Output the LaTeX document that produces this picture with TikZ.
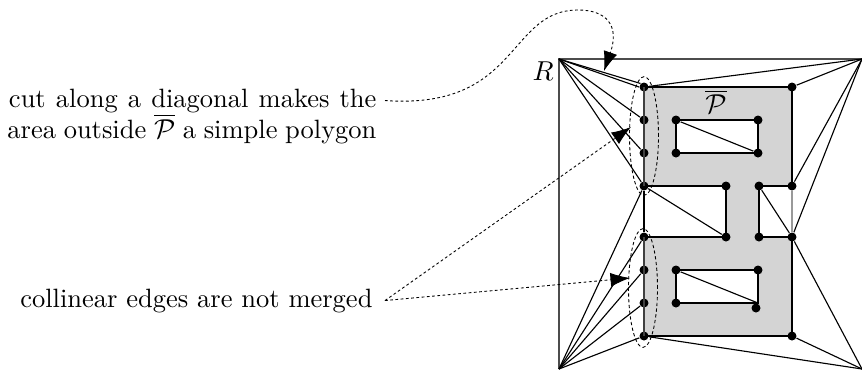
\documentclass[tikz,border=0pt]{standalone}
\usetikzlibrary{arrows.meta,backgrounds,shapes.geometric}
\tikzset{
	vert/.style={circle,fill=black,draw=none,inner sep=0pt,minimum size=3.6pt},
	diag/.style={line width=0.45pt},
	bold/.style={line width=0.8pt},
	note/.style={line width=0.35pt,dash pattern=on 1.1pt off 1pt},
	bigtip/.style={-{Latex[length=7.8pt,width=5.6pt]}},
	oval/.style={ellipse,draw,inner sep=0pt,line width=0.35pt,dash pattern=on 1.3pt off 1pt,minimum width=11.6pt,minimum height=47.5pt},
	label/.style={inner sep=3.2pt,font=\fontsize{10.6}{12}\selectfont}
}
\begin{document}
\begin{tikzpicture}[x=0.4pt,y=-0.4pt]
	\useasboundingbox (0,0) rectangle (862,369);

	\coordinate (R) at (559,59);
	\coordinate (tr) at (862,59);
	\coordinate (bl) at (559,369);
	\coordinate (br) at (862,369);

	\node[vert] (a) at (644,87) {};
	\node[vert] (b) at (792,87) {};
	\node[vert] (c) at (792,186) {};
	\node[vert] (d) at (759,186) {};
	\node[vert] (e) at (759,237) {};
	\node[vert] (f) at (792,237) {};
	\node[vert] (g) at (792,336) {};
	\node[vert] (h) at (644,336) {};
	\node[vert] (i) at (644,303) {};
	\node[vert] (j) at (644,270) {};
	\node[vert] (k) at (644,237) {};
	\node[vert] (l) at (726,237) {};
	\node[vert] (m) at (726,186) {};
	\node[vert] (n) at (644,186) {};
	\node[vert] (o) at (644,153) {};
	\node[vert] (p) at (644,120) {};

	\node[vert] (q1) at (676,120) {};
	\node[vert] (q2) at (758,120) {};
	\node[vert] (q3) at (758,153) {};
	\node[vert] (q4) at (676,153) {};

	\node[vert] (s1) at (676,270) {};
	\node[vert] (s2) at (758,270) {};
	\coordinate (s3) at (758,303);
	\node[vert] (s4) at (676,303) {};
	\node[vert] (s5) at (756,308) {};

	\begin{scope}[on background layer]
		\fill[black!17,even odd rule] (a.center) -- (b.center) -- (c.center) -- (d.center) -- (e.center) -- (f.center) -- (g.center) -- (h.center) -- (i.center) -- (j.center) -- (k.center) -- (l.center) -- (m.center) -- (n.center) -- (o.center) -- (p.center) -- cycle
			(q1.center) -- (q2.center) -- (q3.center) -- (q4.center) -- cycle
			(s1.center) -- (s2.center) -- (s3) -- (s4.center) -- cycle;
		\draw[diag,black!70] (bl) -- (R) -- (tr);
		\draw[diag,black!40] (c) -- (f);
	\end{scope}

	\draw[bold] (a.center) -- (b.center) -- (c.center) -- (d.center) -- (e.center) -- (f.center) -- (g.center) -- (h.center);
	\draw[bold] (k.center) -- (l.center) -- (m.center) -- (n.center);
	\draw[bold,black!75] (h.center) -- (i.center) -- (j.center) -- (k.center);
	\draw[bold,black!75] (n.center) -- (o.center) -- (p.center) -- (a.center);
	\draw[bold] (q1.center) -- (q2.center) -- (q3.center) -- (q4.center) -- cycle;
	\draw[bold] (s1.center) -- (s2.center) -- (s3) -- (s4.center) -- cycle;

	\draw[diag] (R) -- (a.north west);
	\draw[diag] (R) -- (a.west);
	\draw[diag] (R) -- (p);
	\draw[diag] (R) -- (o);
	\draw[diag] (R) -- (n);
	\draw[diag] (tr) -- (a);
	\draw[diag] (tr) -- (b);
	\draw[diag] (tr) -- (c);
	\draw[diag] (tr) -- (f);
	\draw[diag] (bl) -- (n);
	\draw[diag] (bl) -- (k);
	\draw[diag] (bl) -- (j);
	\draw[diag] (bl) -- (i);
	\draw[diag] (bl) -- (h);
	\draw[diag] (br) -- (h);
	\draw[diag] (br) -- (g);
	\draw[diag] (br) -- (f);
	\draw[diag] (n) -- (k);
	\draw[diag] (n) -- (l);
	\draw[diag] (d) -- (f);
	\draw[diag] (q1) -- (q3);
	\draw[diag] (s1) -- (s3);

	\node[oval] (upperoval) at (644,136) {};
	\node[oval] (loweroval) at (643,288) {};

	\node[label] (Rlabel) at (543,71) {$R$};
	\node[label] (Plabel) at (716,102) {$\overline{\mathcal{P}}$};

	\node[label,anchor=base east] (cutone) at (385,107) {\makebox[147pt][s]{cut along a diagonal makes the}};
	\node[label,anchor=base east] (cuttwo) at (385,138) {\makebox[147.6pt][s]{area outside $\overline{\mathcal{P}}$ a simple polygon}};
	\node[label,anchor=base east,inner xsep=4.8pt] (mergelabel) at (385,307) {collinear edges are not merged};

	\coordinate (cuttip) at (604,71);
	\coordinate (uppertip) at (631,127);
	\coordinate (lowertip) at (630,278);

	\draw[note,bigtip] (cutone.east) .. controls (520,110) and (507,10) .. (578,10) .. controls (606,10) and (620,25) .. (cuttip);
	\draw[note,bigtip] (mergelabel.east) -- (uppertip);
	\draw[note,bigtip] (mergelabel.east) -- (lowertip);
\end{tikzpicture}
\end{document}
